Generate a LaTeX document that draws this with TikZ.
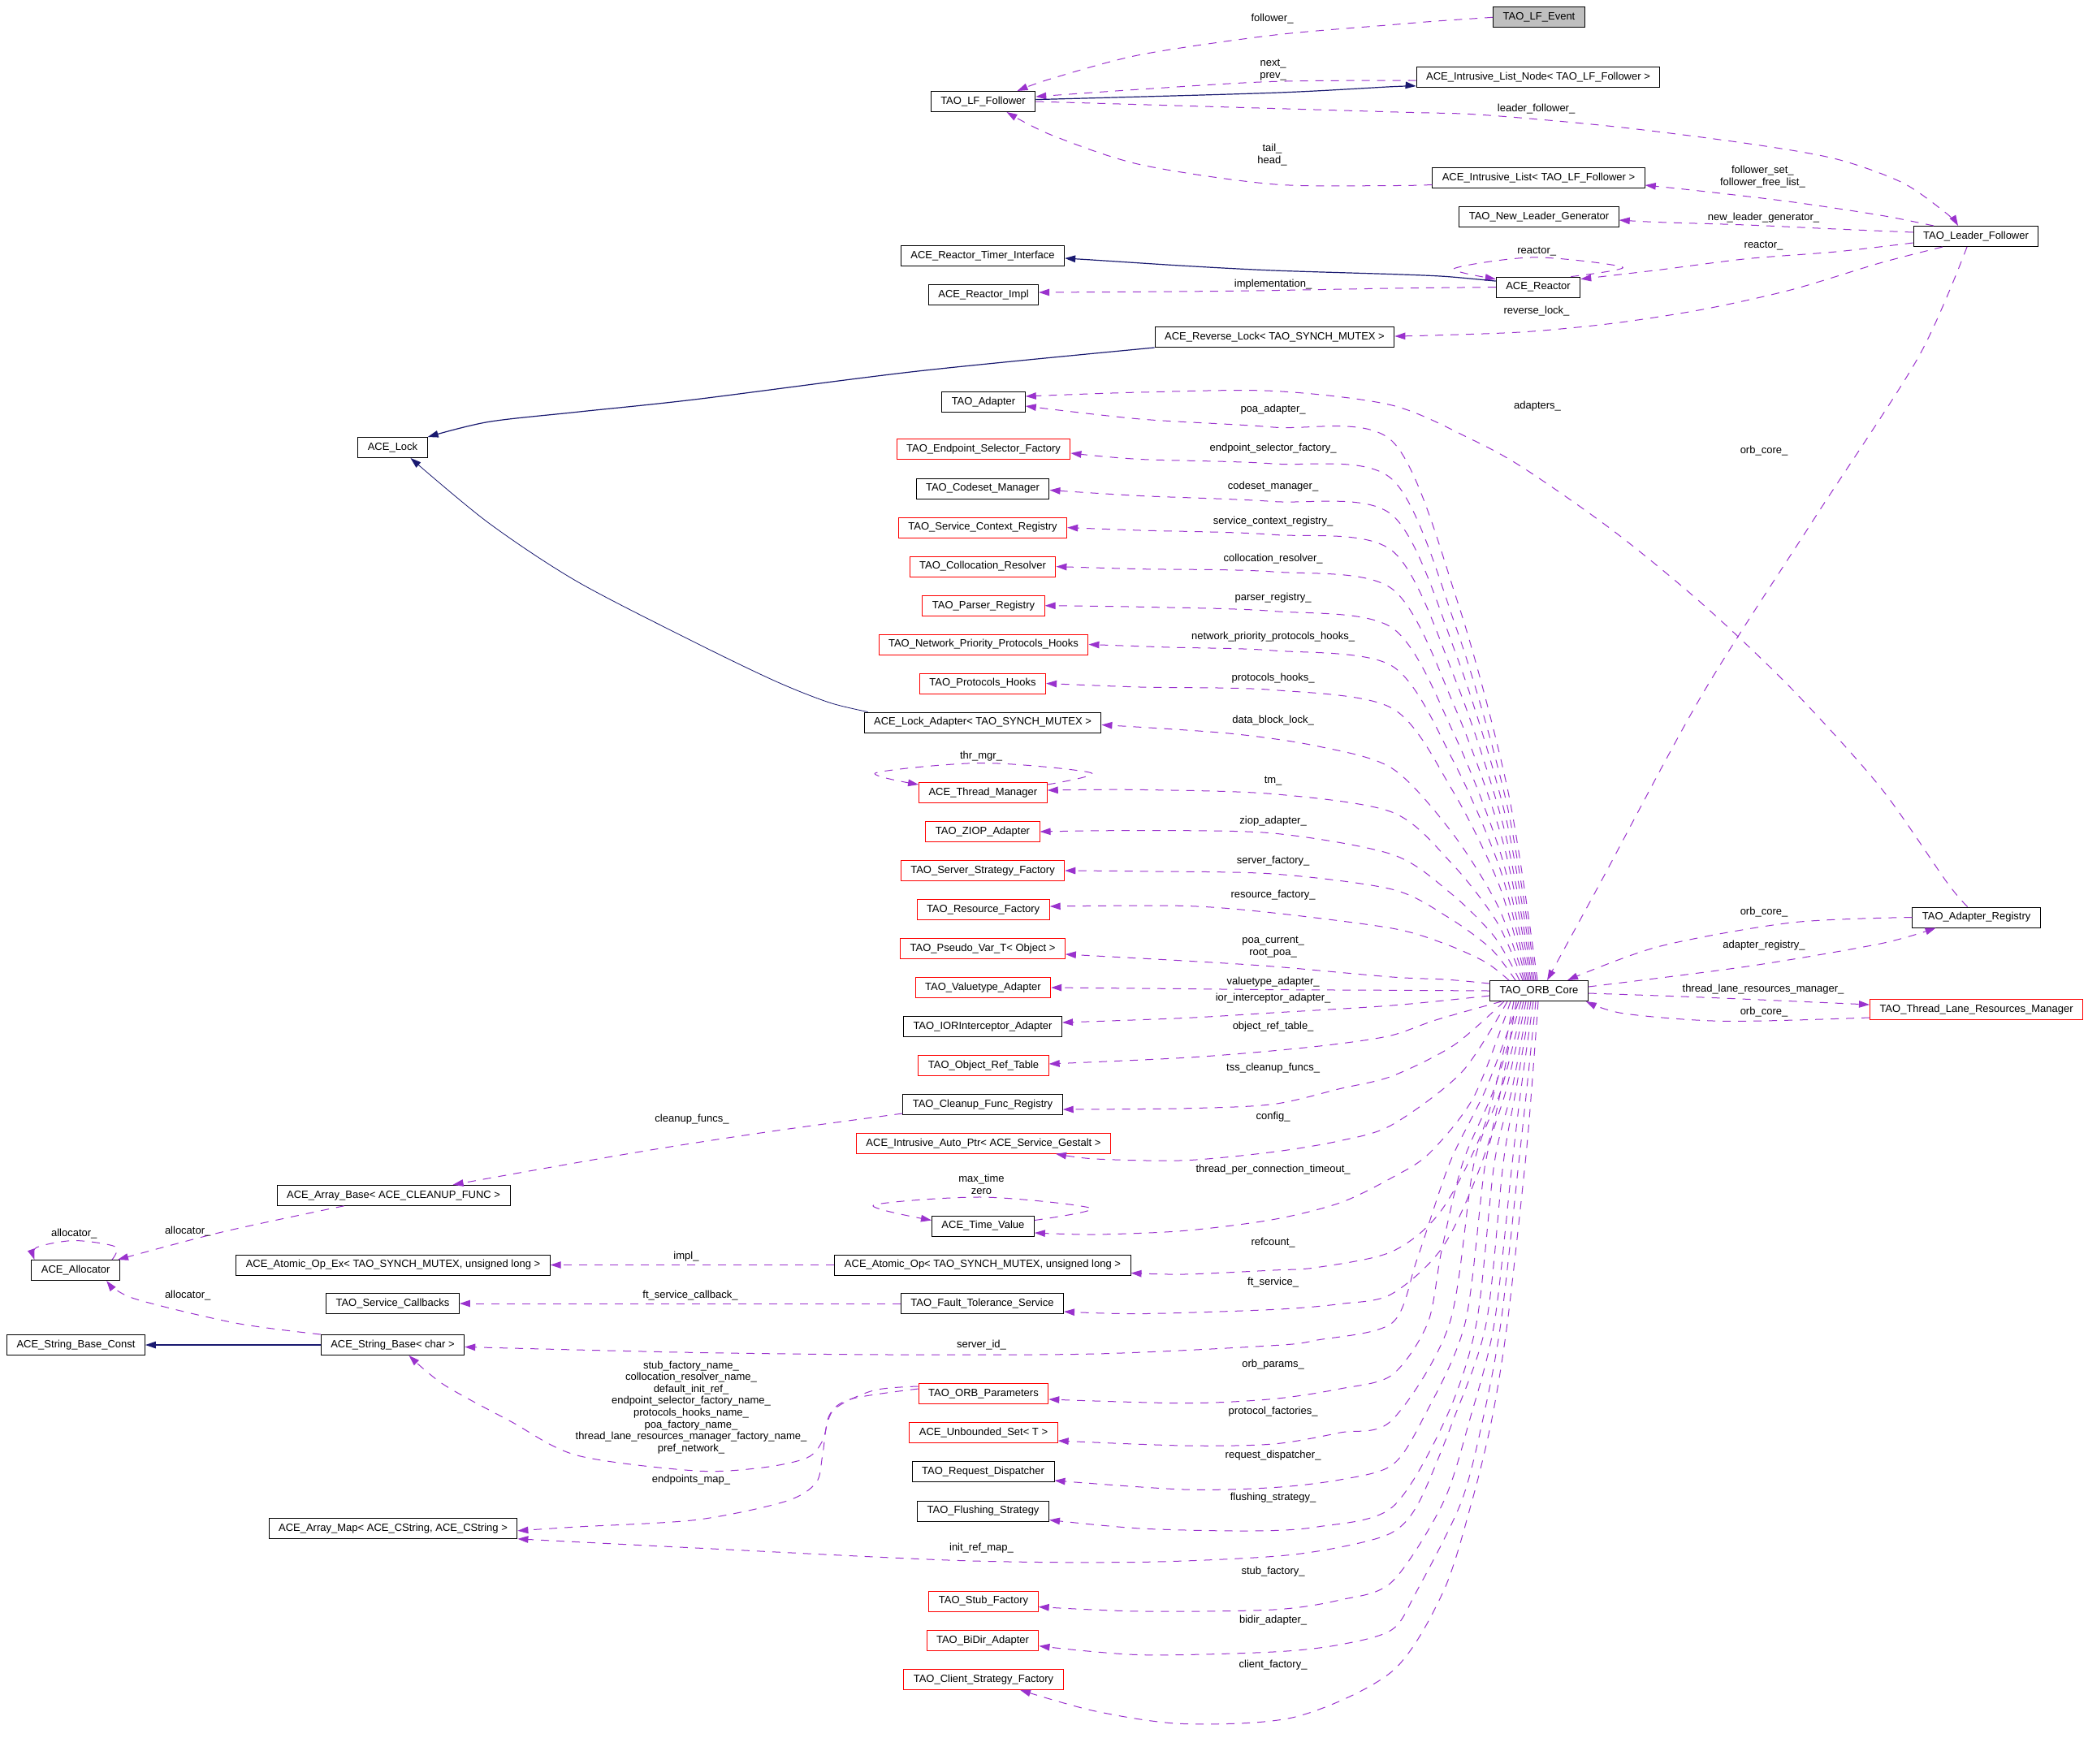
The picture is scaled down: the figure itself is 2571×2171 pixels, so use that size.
\documentclass[tikz,border=0pt]{standalone}
\usepackage{fontspec}
\setmainfont{Liberation Sans}
\usetikzlibrary{arrows.meta}
\definecolor{dorchid}{HTML}{9A32CD}
\definecolor{mnblue}{HTML}{191970}
\definecolor{rootgray}{HTML}{BFBFBF}
\newcommand{\lblfont}{\fontsize{13}{15}\selectfont}
\tikzset{
  cls/.style={draw=black, line width=1pt, fill=white, font=\lblfont, inner xsep=12pt, inner ysep=0pt, minimum height=25pt, text height=9.5pt, text depth=2.8pt},
  redcls/.style={cls, draw=red},
  rootcls/.style={cls, fill=rootgray},
  lbl/.style={font=\lblfont, inner sep=0pt, align=center},
  dep/.style={draw=dorchid, line width=1pt, dash pattern=on 10pt off 9pt, -{Triangle[length=13pt,width=8.5pt]}},
  inh/.style={draw=mnblue, line width=1.2pt, -{Triangle[length=13pt,width=8.5pt]}},
}
\begin{document}
\begin{tikzpicture}[x=1pt,y=-1pt]
\fill[white] (0,0) rectangle (2571,2171);
\useasboundingbox (0,0) rectangle (2571,2171);

% ---------- nodes ----------
\node[rootcls] (ev) at (1895,21.3) {TAO\_LF\_Event};
\node[cls] (lff) at (1210.5,125) {TAO\_LF\_Follower};
\node[cls] (iln) at (1894,95) {ACE\_Intrusive\_List\_Node< TAO\_LF\_Follower >};
\node[cls] (il) at (1894.5,219) {ACE\_Intrusive\_List< TAO\_LF\_Follower >};
\node[cls] (nlg) at (1895,267) {TAO\_New\_Leader\_Generator};
\node[cls] (lf) at (2433,291) {TAO\_Leader\_Follower};
\node[cls] (rti) at (1210,315) {ACE\_Reactor\_Timer\_Interface};
\node[cls] (rimpl) at (1211,363) {ACE\_Reactor\_Impl};
\node[cls] (reac) at (1894,353.6) {ACE\_Reactor};
\node[cls] (rl) at (1569.5,415) {ACE\_Reverse\_Lock< TAO\_SYNCH\_MUTEX >};
\node[cls] (lock) at (483.5,551) {ACE\_Lock};
\node[cls] (ad) at (1211,495) {TAO\_Adapter};
\node[redcls] (esf) at (1211,553) {TAO\_Endpoint\_Selector\_Factory};
\node[cls] (csm) at (1210,601.5) {TAO\_Codeset\_Manager};
\node[redcls] (scr) at (1210,649.6) {TAO\_Service\_Context\_Registry};
\node[redcls] (cr) at (1210,697.6) {TAO\_Collocation\_Resolver};
\node[redcls] (pr) at (1211,745.7) {TAO\_Parser\_Registry};
\node[redcls] (nph) at (1211,793.5) {TAO\_Network\_Priority\_Protocols\_Hooks};
\node[redcls] (ph) at (1210,841.5) {TAO\_Protocols\_Hooks};
\node[cls] (la) at (1210,889.5) {ACE\_Lock\_Adapter< TAO\_SYNCH\_MUTEX >};
\node[redcls] (tm) at (1210.4,976) {ACE\_Thread\_Manager};
\node[redcls] (ziop) at (1210,1024) {TAO\_ZIOP\_Adapter};
\node[redcls] (ssf) at (1210,1072) {TAO\_Server\_Strategy\_Factory};
\node[redcls] (rf) at (1210.6,1120) {TAO\_Resource\_Factory};
\node[redcls] (pv) at (1210,1168) {TAO\_Pseudo\_Var\_T< Object >};
\node[redcls] (va) at (1210.4,1216) {TAO\_Valuetype\_Adapter};
\node[cls] (ioria) at (1210,1264) {TAO\_IORInterceptor\_Adapter};
\node[redcls] (ort) at (1211,1312) {TAO\_Object\_Ref\_Table};
\node[cls] (cfr) at (1210,1360) {TAO\_Cleanup\_Func\_Registry};
\node[redcls] (iap) at (1211,1407.7) {ACE\_Intrusive\_Auto\_Ptr< ACE\_Service\_Gestalt >};
\node[cls] (ab) at (484.6,1471.8) {ACE\_Array\_Base< ACE\_CLEANUP\_FUNC >};
\node[cls] (alloc) at (93.2,1564) {ACE\_Allocator};
\node[cls] (tv) at (1210.4,1509.5) {ACE\_Time\_Value};
\node[cls] (aoe) at (484,1557.5) {ACE\_Atomic\_Op\_Ex< TAO\_SYNCH\_MUTEX, unsigned long >};
\node[cls] (ao) at (1210,1557.5) {ACE\_Atomic\_Op< TAO\_SYNCH\_MUTEX, unsigned long >};
\node[cls] (sc) at (483.5,1605) {TAO\_Service\_Callbacks};
\node[cls] (fts) at (1209.5,1605) {TAO\_Fault\_Tolerance\_Service};
\node[cls] (sbc) at (93.5,1656) {ACE\_String\_Base\_Const};
\node[cls] (sb) at (483.5,1656) {ACE\_String\_Base< char >};
\node[redcls] (op) at (1211,1716) {TAO\_ORB\_Parameters};
\node[redcls] (us) at (1211,1764) {ACE\_Unbounded\_Set< T >};
\node[cls] (rd) at (1210.6,1812) {TAO\_Request\_Dispatcher};
\node[cls] (fs) at (1210.6,1860.5) {TAO\_Flushing\_Strategy};
\node[cls] (am) at (484,1881.8) {ACE\_Array\_Map< ACE\_CString, ACE\_CString >};
\node[redcls] (stf) at (1211,1971.5) {TAO\_Stub\_Factory};
\node[redcls] (bd) at (1210,2019.7) {TAO\_BiDir\_Adapter};
\node[redcls] (csf) at (1211,2067.8) {TAO\_Client\_Strategy\_Factory};
\node[cls] (orb) at (1895,1220) {TAO\_ORB\_Core};
\node[cls] (ar) at (2433.6,1129.5) {TAO\_Adapter\_Registry};
\node[redcls] (tlrm) at (2433.6,1243) {TAO\_Thread\_Lane\_Resources\_Manager};

% ---------- top area edges ----------
\draw[dep] plot[smooth] coordinates {(ev.west) (1768.7,26) (1714,30.5) (1567.6,43.3) (1403.6,67.5) (1294,97) ([xshift=42pt]lff.north)};
\draw[dep] plot[smooth] coordinates {([yshift=-4pt]iln.west) (1567.6,100.4) (1403.6,110) ([yshift=6pt]lff.east)};
\draw[inh] plot[smooth] coordinates {([yshift=2.4pt]lff.east) (1567.6,114.3) (1714,106.7) ([yshift=-11pt]iln.west)};
\draw[dep] plot[smooth] coordinates {(lff.east) (1714,137.8) (1823,141.3) (1987,155.8) (2151,176.6) (2260.6,195.7) (2342.6,225) (2397,263) ([xshift=-22pt]lf.north)};
\draw[dep] plot[smooth] coordinates {([yshift=-8.5pt]il.west) (1714,228.5) (1567.6,226.8) (1403.6,202.6) (1294,166) ([xshift=29pt]lff.south)};
\draw[dep] plot[smooth] coordinates {([xshift=-52pt]lf.north) (2315,265) (2206,248.6) (2096.6,235.5) ([yshift=-9pt]il.east)};
\draw[dep] plot[smooth] coordinates {([yshift=5pt]lf.west) (2260.6,282) (2151,277) (2042,273.6) ([yshift=-4pt]nlg.east)};
\draw[dep] plot[smooth] coordinates {([yshift=-8pt]lf.west) (2260.6,310) (2151,318.6) (2042,332.4) ([yshift=-3pt]reac.north east)};
\draw[dep] plot[smooth] coordinates {([xshift=-12pt]reac.north east) (1998,329) (1889,316.9) (1790.5,330.7) ([yshift=-3pt]reac.north west)};
\draw[inh] plot[smooth] coordinates {([yshift=7.5pt]reac.west) (1779.6,340.4) (1714,337.6) (1567.6,333) (1458,327.3) (1349,320.3) ([yshift=-3pt]rti.east)};
\draw[dep] plot[smooth] coordinates {(reac.west) (1714,355) (1513,358.4) ([yshift=3pt]rimpl.east)};
\draw[dep] plot[smooth] coordinates {([xshift=-41pt]lf.south) (2315,323.8) (2206,356.7) (2096.6,381) (1987,398) (1878,408.6) (1768.7,412.8) ([yshift=1pt]rl.east)};
\draw[inh] plot[smooth] coordinates {(rl.south west) (1130,457) (857,491.7) (710.6,507.3) (601,519.5) (lock.north east)};
\draw[inh, line width=0.8pt] plot[smooth] coordinates {([xshift=5pt]la.north west) (1021,865) (955.4,839) (857,791.6) (710.6,716) (601,643.4) ([xshift=22pt]lock.south)};
\draw[dep] plot[smooth] coordinates {([xshift=-11pt]lf.south) (2362,440) (2233,640) (2096,855) (1971,1086) ([xshift=10pt]orb.north)};
\draw[dep] plot[smooth] coordinates {([xshift=-11pt]ar.north) (2397,1086) (2315,969) (2206,848) (2096.6,744) (1987,654) (1878,577.6) (1812,541) (1714,499) (1567.6,481.4) (1403.6,483) ([yshift=7pt]ad.east)};
\draw[dep] plot[smooth] coordinates {(ar.west) (2206,1136) (2042,1165.6) ([xshift=35pt]orb.north)};
\draw[dep] plot[smooth] coordinates {([yshift=5pt]orb.east) (2151,1190) (2315,1162) ([xshift=-50pt]ar.south)};
\draw[dep] plot[smooth] coordinates {([yshift=-3pt]orb.east) (2096.6,1228) ([yshift=6pt]tlrm.west)};
\draw[dep] plot[smooth] coordinates {([yshift=-10pt]tlrm.west) (2124,1257.4) (2000,1248) ([xshift=-3pt]orb.south east)};

% ---------- ORB core fan (upper) ----------
\draw[dep] plot[smooth] coordinates {([xshift=-2pt]orb.north) (1857,975) (1795,742) (1714,543) (1567.6,526) (1404,516) ([yshift=-5pt]ad.east)};
\draw[dep] plot[smooth] coordinates {([xshift=-4pt]orb.north) (1855.6,991) (1793.7,775) (1714,590) (1567.6,571) (1404,565.5) ([yshift=-5pt]esf.east)};
\draw[dep] plot[smooth] coordinates {([xshift=-6pt]orb.north) (1854,1006) (1793,806) (1714,634) (1567.6,617.5) (1404,610.5) ([yshift=-2pt]csm.east)};
\draw[dep] plot[smooth] coordinates {([xshift=-8pt]orb.north) (1852.4,1022) (1792,837) (1714,678) (1567.6,658.3) (1404,653) (scr.east)};
\draw[dep] plot[smooth] coordinates {([xshift=-10pt]orb.north) (1851,1038) (1791,870) (1714,725) (1567.6,704) (1404,700.6) (cr.east)};
\draw[dep] plot[smooth] coordinates {([xshift=-12pt]orb.north) (1849,1055) (1790,903) (1714,773) (1567.6,752.5) (1404,747.3) (pr.east)};
\draw[dep] plot[smooth] coordinates {([xshift=-14pt]orb.north) (1847.6,1071.6) (1789,936) (1714,820) (1567.6,801) (1440,797) (nph.east)};
\draw[dep] plot[smooth] coordinates {([xshift=-16pt]orb.north) (1846,1090) (1788,972.5) (1714,872) (1567.6,849.5) (1404,846) (ph.east)};
\draw[dep] plot[smooth] coordinates {([xshift=-18pt]orb.north) (1844.4,1115.6) (1787,1024) (1714,946) (1622,918.7) (1513,903) ([yshift=-3pt]la.east)};
\draw[dep] plot[smooth] coordinates {([xshift=-20pt]orb.north) (1842.8,1134.6) (1786.5,1062) (1714,1000) (1567.6,977.6) (1404,972.4) ([yshift=3pt]tm.east)};
\draw[dep] plot[smooth] coordinates {([xshift=-24pt]orb.north) (1839.6,1152.75) (1784.7,1098.5) (1714,1052) (1567.6,1026) (1404,1022.6) (ziop.east)};
\draw[dep] plot[smooth] coordinates {([xshift=-29pt]orb.north) (1835.6,1168) (1782.4,1129) (1714,1095) (1567.6,1076) (1404,1072.8) (ssf.east)};
\draw[dep] plot[smooth] coordinates {([xshift=-37pt]orb.north) (1829,1184.6) (1778.8,1162) (1714,1143) (1567.6,1124) (1458,1115.4) ([yshift=4pt]rf.east)};
\draw[dep] plot[smooth] coordinates {([yshift=9pt]orb.west) (1780,1206) (1714,1203) (1567.6,1190) (1458,1183) ([yshift=-7pt]pv.east)};
\draw[dep] plot[smooth] coordinates {(orb.west) (1714,1219.3) (1567.6,1218.6) (1458,1217.5) (va.east)};
\draw[dep] plot[smooth] coordinates {([yshift=-6pt]orb.west) (1714,1238) (1567.6,1247) (1458,1253.5) ([yshift=5pt]ioria.east)};

% ---------- ORB core fan (lower) ----------
\draw[dep] plot[smooth] coordinates {([xshift=-46pt]orb.south) (1768.7,1255.7) (1714,1274.7) (1650,1285) (1567.6,1293.8) (1458,1302.4) ([yshift=2pt]ort.east)};
\draw[dep] plot[smooth] coordinates {([xshift=-43pt]orb.south) (1790,1287) (1714,1325) (1650,1340.5) (1567.6,1359.6) (1458,1364.8) ([yshift=-6pt]cfr.east)};
\draw[dep] plot[smooth] coordinates {([xshift=-39pt]orb.south) (1800,1320) (1714,1385) (1650,1404.6) (1567.6,1418.4) (1458,1428.8) (1349,1427) ([xshift=89pt]iap.south)};
\draw[dep] plot[smooth] coordinates {([xshift=-35pt]orb.south) (1815,1350) (1760,1420) (1714,1450) (1650,1481) (1567.6,1501.6) (1458,1515.4) (1349,1520) ([yshift=-8.5pt]tv.east)};
\draw[dep] plot[smooth] coordinates {([xshift=-31pt]orb.south) (1830,1380) (1775,1490) (1714,1541) (1622,1560.5) (1567.6,1564) (1458,1569) ([yshift=-10pt]ao.east)};
\draw[dep] plot[smooth] coordinates {([xshift=-28pt]orb.south) (1835,1400) (1780,1530) (1714,1593) (1650,1605.5) (1567.6,1612.4) (1404,1617.6) ([yshift=-10pt]fts.east)};
\draw[dep] plot[smooth] coordinates {([xshift=-25pt]orb.south) (1830,1340) (1785,1432) (1745,1550) (1714,1629) (1622,1650) (1567.6,1656.7) (1349,1667) (1100,1668) (857,1665.4) ([yshift=-2.5pt]sb.east)};
\draw[dep] plot[smooth] coordinates {([xshift=-22pt]orb.south) (1840,1340) (1801,1432) (1775,1540) (1758,1629) (1714,1693) (1650,1710) (1567.6,1722.5) (1458,1727.7) ([yshift=-7pt]op.east)};
\draw[dep] plot[smooth] coordinates {([xshift=-19pt]orb.south) (1849,1340) (1815,1432) (1785,1629) (1714,1748.5) (1650,1764) (1567.6,1778) (1458,1780) ([yshift=-10pt]us.east)};
\draw[dep] plot[smooth] coordinates {([xshift=-16pt]orb.south) (1855,1340) (1829,1432) (1804,1629) (1752,1747) (1714,1804) (1650,1822) (1567.6,1831.6) (1458,1834) ([yshift=-11pt]rd.east)};
\draw[dep] plot[smooth] coordinates {([xshift=-13pt]orb.south) (1862,1340) (1840,1432) (1818,1629) (1780,1747) (1714,1856) (1622,1880) (1540,1885) (1404,1882) ([yshift=-11pt]fs.east)};
\draw[dep] plot[smooth] coordinates {([xshift=-10pt]orb.south) (1867,1340) (1851,1432) (1830,1629) (1790,1747) (1747,1850) (1714,1887) (1650,1905) (1567.6,1916.4) (1404,1923.4) (1185,1921.6) (857,1906) ([yshift=-13pt]am.east)};
\draw[dep] plot[smooth] coordinates {([xshift=-7pt]orb.south) (1873,1340) (1862,1432) (1840,1629) (1810,1747) (1777,1850) (1714,1947.6) (1650,1970) (1567.6,1982) (1404,1984) ([yshift=-7pt]stf.east)};
\draw[dep] plot[smooth] coordinates {([xshift=-4pt]orb.south) (1880,1340) (1870,1432) (1848,1629) (1826,1747) (1799,1850) (1744,1960) (1714,2006.5) (1650,2025) (1567.6,2034) (1404,2037.6) ([yshift=-7pt]bd.east)};
\draw[dep] plot[smooth] coordinates {([xshift=-1pt]orb.south) (1886,1340) (1878,1432) (1856,1629) (1837,1747) (1812,1850) (1777,1960) (1714,2058) (1595,2114) (1458,2122.5) (1349,2107) ([xshift=45pt]csf.south)};

% ---------- left area edges ----------
\draw[dep] plot[smooth] coordinates {([yshift=2pt]cfr.south west) (966,1390.7) (857,1407) (765,1422) (628.6,1446) ([xshift=73pt]ab.north)};
\draw[dep] plot[smooth] coordinates {([xshift=-61pt]ab.south) (273.3,1517) ([xshift=-3pt]alloc.north east)};
\draw[dep] plot[smooth] coordinates {([xshift=-10pt]alloc.north east) (142,1535) (91,1527.5) (45,1536) ([xshift=4pt]alloc.north west)};
\draw[dep] plot[smooth] coordinates {(sb.north west) (289.7,1629) (164,1598.5) ([xshift=38pt]alloc.south)};
\draw[inh] (sb.west) -- (sbc.east);
\draw[dep] (ao.west) -- (aoe.east);
\draw[dep] (fts.west) -- (sc.east);
\draw[dep] plot[smooth] coordinates {([yshift=9pt]op.west) (1075.6,1712) (1026.4,1736) (1012.8,1774) (993.6,1795) (939,1807) (857,1811) (710.6,1792) (628.6,1750) (546.6,1705) ([xshift=20pt]sb.south)};
\draw[dep] plot[smooth] coordinates {([yshift=6pt]op.west) (1048,1722.5) (1021,1743) (1012.8,1791.8) (1004.6,1826) (966,1849) (857,1871.4) (710.6,1880) ([yshift=-3pt]am.east)};
\draw[dep] plot[smooth] coordinates {([yshift=-3pt]tm.north east) (1343.5,951.6) (1210,939.5) (1078.4,951.6) ([yshift=-3pt]tm.north west)};
\draw[dep] plot[smooth] coordinates {([yshift=-6pt]tv.north east) (1343.5,1487.7) (1210,1474) (1075.6,1484) ([yshift=-6pt]tv.north west)};

% ---------- labels ----------
\node[lbl] (t01) at (1566.5,23.5) {follower\_};
\node[lbl] (t02) at (1567.6,86.5) {next\_\\prev\_};
\node[lbl] (t03) at (1891.6,134.4) {leader\_follower\_};
\node[lbl] (t04) at (1566.5,191) {tail\_\\head\_};
\node[lbl] (t05) at (2170.4,217.8) {follower\_set\_\\follower\_free\_list\_};
\node[lbl] (t06) at (2171.5,267.7) {new\_leader\_generator\_};
\node[lbl] (t07) at (2171.5,303) {reactor\_};
\node[lbl] (t08) at (1892.2,310) {reactor\_};
\node[lbl] (t09) at (1567.6,350.5) {implementation\_};
\node[lbl] (t10) at (1892,382.7) {reverse\_lock\_};
\node[lbl] (t11) at (1567.6,504) {poa\_adapter\_};
\node[lbl] (t12) at (1893,499.7) {adapters\_};
\node[lbl] (t13) at (2172,555) {orb\_core\_};
\node[lbl] (t14) at (1567.6,551.7) {endpoint\_selector\_factory\_};
\node[lbl] (t15) at (1567.6,599.4) {codeset\_manager\_};
\node[lbl] (t16) at (1567.6,642) {service\_context\_registry\_};
\node[lbl] (t17) at (1567.6,687.8) {collocation\_resolver\_};
\node[lbl] (t18) at (1567.6,736) {parser\_registry\_};
\node[lbl] (t19) at (1567.6,783.7) {network\_priority\_protocols\_hooks\_};
\node[lbl] (t20) at (1567.6,835) {protocols\_hooks\_};
\node[lbl] (t21) at (1567.6,887) {data\_block\_lock\_};
\node[lbl] (t22) at (1208,930.9) {thr\_mgr\_};
\node[lbl] (t23) at (1567.6,961.7) {tm\_};
\node[lbl] (t24) at (1567.6,1011) {ziop\_adapter\_};
\node[lbl] (t25) at (1567.6,1060) {server\_factory\_};
\node[lbl] (t26) at (1567.6,1102.6) {resource\_factory\_};
\node[lbl] (t27) at (1567.6,1166.5) {poa\_current\_\\root\_poa\_};
\node[lbl] (t28) at (1567.6,1209.6) {valuetype\_adapter\_};
\node[lbl] (t29) at (1567.6,1229.4) {ior\_interceptor\_adapter\_};
\node[lbl] (t30) at (1567.6,1264) {object\_ref\_table\_};
\node[lbl] (t31) at (1567.6,1314.9) {tss\_cleanup\_funcs\_};
\node[lbl] (t32) at (1567.6,1374.8) {config\_};
\node[lbl] (t33) at (1567.6,1440) {thread\_per\_connection\_timeout\_};
\node[lbl] (t34) at (1208.5,1458.4) {max\_time\\zero};
\node[lbl] (t35) at (1567.6,1530) {refcount\_};
\node[lbl] (t36) at (1567.6,1579.5) {ft\_service\_};
\node[lbl] (t37) at (852,1378.6) {cleanup\_funcs\_};
\node[lbl] (t38) at (231.2,1515.8) {allocator\_};
\node[lbl] (t39) at (91.3,1518.9) {allocator\_};
\node[lbl] (t40) at (845,1547) {impl\_};
\node[lbl] (t41) at (231.2,1595) {allocator\_};
\node[lbl] (t42) at (850,1595.4) {ft\_service\_callback\_};
\node[lbl] (t43) at (1208.5,1655.7) {server\_id\_};
\node[lbl, font=\fontsize{13}{14.6}\selectfont] (t44) at (851,1732.8) {stub\_factory\_name\_\\collocation\_resolver\_name\_\\default\_init\_ref\_\\endpoint\_selector\_factory\_name\_\\protocols\_hooks\_name\_\\poa\_factory\_name\_\\thread\_lane\_resources\_manager\_factory\_name\_\\pref\_network\_};
\node[lbl] (t45) at (851,1822) {endpoints\_map\_};
\node[lbl] (t46) at (1567.6,1680.3) {orb\_params\_};
\node[lbl] (t47) at (1567.6,1738) {protocol\_factories\_};
\node[lbl] (t48) at (1567.6,1791.8) {request\_dispatcher\_};
\node[lbl] (t49) at (1567.6,1844) {flushing\_strategy\_};
\node[lbl] (t50) at (1208.5,1906) {init\_ref\_map\_};
\node[lbl] (t51) at (1567.6,1935) {stub\_factory\_};
\node[lbl] (t52) at (1567.6,1995) {bidir\_adapter\_};
\node[lbl] (t53) at (1567.6,2050.4) {client\_factory\_};
\node[lbl] (t54) at (2172,1122.7) {orb\_core\_};
\node[lbl] (t55) at (2172,1164.3) {adapter\_registry\_};
\node[lbl] (t56) at (2171,1218) {thread\_lane\_resources\_manager\_};
\node[lbl] (t57) at (2172,1246) {orb\_core\_};
\end{tikzpicture}
\end{document}
